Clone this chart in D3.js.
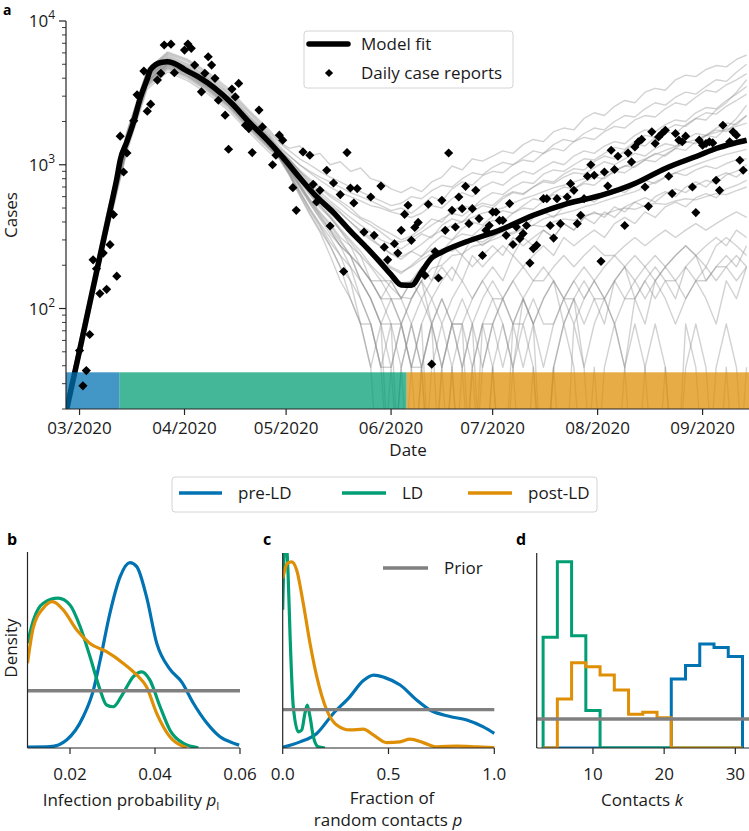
<!DOCTYPE html>
<html><head><meta charset="utf-8">
<script src="https://cdn.jsdelivr.net/npm/d3@7"></script>
<style>
body{margin:0;background:#fff;}
svg{display:block;font-family:"Open Sans","Noto Sans",sans-serif;}
</style></head><body>
<svg id="chart" width="749" height="831"></svg>
<script>
// ---------------- DATA ----------------
// Panel a: day offsets relative to 1 March 2020
const reportDays = [0,1,2,3,4,5,6,7,8,9,10,11,12,13,14,16,17,19,20,21,23,24,25,27,28,31,32,33,34,36,37,38,39,40,41,43,44,45,46,47,49,50,51,53,54,57,58,59,60,63,64,66,68,69,70,71,73,74,75,77,78,79,80,81,82,84,86,87,89,90,91,93,94,95,96,97,98,99,100,102,103,104,105,106,107,108,109,110,111,112,113,114,115,116,117,118,119,120,121,122,123,124,125,126,127,128,129,130,131,132,133,134,135,137,138,139,140,141,142,144,145,146,147,148,149,150,151,152,154,155,156,157,158,159,161,162,163,164,165,166,167,168,169,170,171,172,173,174,175,176,177,178,179,181,182,183,184,185,186,187,188,189,190,192,193,194,195,196];
const reportCases = [51,29,37,66,218,189,127,243,136,278,450,168,1580,891,1208,2020,3064,4484,2360,2640,3880,4327,6810,6900,4365,6280,6920,6457,4935,3214,4327,5640,4935,3990,2812,2213,1282,3360,2966,3682,1884,1786,1216,2400,1833,1000,1164,1606,1482,693,482,1228,1164,731,551,664,916,375,747,620,181,1216,689,542,683,340,597,323,711,267,218,282,243,350,452,523,298,366,397,170,531,41,249,163,566,350,1208,482,369,597,495,708,389,495,664,422,234,350,378,469,469,410,410,323,537,279,369,306,332,378,207,261,275,581,581,378,309,581,389,597,739,664,389,445,581,832,1000,845,213,891,711,1262,927,1146,378,1208,1047,1330,1442,1500,700,514,1694,1406,1563,1650,1738,832,630,1650,1482,1445,1581,700,465,1482,1368,1406,1445,1419,780,664,1884,1445,1694,1606,1075,916];

const fitDays = [-4,0,4,8,10,11,12,14,16,18,20,21,24,26,29,31,35,40,45,50,55,60,65,70,75,80,85,89,92,95,98,101,104,107,114,124,134,144,154,164,173,183,188,193,197];
const fitCases = [19,51,139,376,618,800,1075,1450,2000,2950,3950,4600,5150,5200,4935,4600,4100,3400,2670,1986,1520,1130,815,600,465,345,262,207,172,146,145,180,225,247,290,350,445,537,612,740,943,1164,1297,1406,1482];

const sampleDays = [-4,2,8,14,20,26,32,38,44,50,56,59,62,65,68,71,74,77,80,83,86,89,92,95,98,101,104,107,110,113,116,119,122,125,128,131,134,137,140,143,146,149,152,155,158,161,164,167,170,173,176,179,182,185,188,191,194,197];
const sampleA1 = [21,100,450,1700,4600,6100,5400,4400,3400,2400,1750,1450,1300,1350,1150,1200,1000,1050,900,950,800,760,680,640,700,650,760,820,980,920,1100,1060,1150,1250,1200,1380,1500,1450,1700,1800,1750,2100,2300,2200,2550,2800,2700,3200,3400,3300,3900,4200,4100,4600,4900,4800,5400,5800];
const sampleA2 = [20,96,430,1650,4500,5900,5200,4200,3200,2300,1650,1350,1150,1000,900,820,760,700,640,600,560,520,480,500,460,520,600,560,680,760,720,840,900,880,1000,1080,1050,1200,1300,1250,1450,1550,1500,1700,1850,1800,2050,2200,2150,2450,2700,2600,2950,3300,3200,3600,3900,4300];
const sampleA3 = [20,92,405,1570,4250,5600,4850,3950,3000,2150,1560,1250,1100,900,780,700,620,560,500,430,400,360,330,300,320,360,420,400,480,520,500,580,640,620,700,760,740,860,920,900,1000,1100,1080,1200,1320,1280,1450,1600,1550,1750,1900,1850,2100,2300,2250,2550,2800,3100];
const sampleA4 = [19,88,388,1500,4070,5350,4640,3760,2880,2040,1480,1200,980,830,700,600,520,460,400,340,300,270,240,220,250,230,280,320,300,360,400,380,440,480,460,520,580,560,640,700,680,760,820,800,900,980,960,1080,1200,1150,1300,1450,1400,1600,1750,1700,1950,2200];
const sampleB1 = [19,85,376,1450,3950,5200,4500,3650,2800,1986,1440,1180,1020,800,690,560,500,400,350,280,250,200,170,150,140,170,220,250,260,290,300,320,340,350,390,410,450,470,500,520,560,570,600,630,650,710,740,790,880,940,1020,1070,1150,1230,1290,1380,1410,1500];
const sampleB2 = [19,87,384,1480,4030,5300,4590,3720,2860,2030,1470,1220,1000,840,660,590,470,420,330,300,240,215,165,150,155,175,230,240,275,280,310,315,345,360,380,420,440,480,490,540,545,590,610,610,670,690,750,810,860,960,1000,1100,1140,1240,1280,1400,1400,1520];
const sampleB3 = [20,89,395,1520,4150,5460,4720,3830,2940,2090,1510,1250,1050,880,740,620,540,470,400,350,310,270,240,230,250,280,320,350,380,400,430,460,480,500,540,580,610,650,690,720,760,800,840,870,920,980,1030,1100,1180,1260,1340,1420,1500,1600,1680,1760,1850,1950];
const sampleB4 = [18,82,361,1390,3790,4990,4320,3500,2690,1910,1380,1150,950,760,620,520,440,360,300,250,200,170,140,120,117,156,190,200,234,240,270,280,300,320,340,360,380,420,440,460,480,510,530,560,590,620,650,700,760,820,880,940,1000,1060,1120,1180,1230,1280];
const sampleC1 = [18,80,353,1360,3710,4890,4230,3430,2630,1870,1350,1150,930,720,560,460,380,300,234,195,156,117,117,78,117,156,117,156,195,156,234,195,234,273,234,312,273,351,312,390,351,430,390,470,430,510,550,510,600,650,600,700,760,700,820,880,820,940];
const sampleC2 = [17,78,346,1330,3630,4780,4140,3360,2580,1830,1320,1160,940,740,580,470,390,312,273,195,156,117,78,78,39,78,117,78,117,156,117,156,195,156,234,195,234,273,234,312,273,312,351,312,390,430,390,470,430,510,550,510,590,630,590,680,720,780];
const sampleC3 = [17,76,338,1300,3550,4680,4050,3280,2520,1790,1300,1140,900,700,540,430,350,273,234,156,117,78,78,39,78,39,78,117,78,78,117,156,117,117,156,195,156,156,195,234,195,234,273,234,234,273,312,273,312,351,312,351,390,351,390,430,470,430];
const sampleD1 = [17,75,331,1280,3480,4580,3960,3210,2460,1750,1270,1130,880,660,500,390,312,234,195,117,78,39,78,0,39,78,0,39,78,39,0,78,117,78,39,117,78,117,156,78,117,156,117,78,156,195,117,156,195,156,117,195,234,156,195,234,195,273];
const sampleD2 = [18,81,357,1380,3750,4940,4280,3470,2660,1890,1370,1120,860,640,480,370,273,195,156,78,39,78,0,39,0,39,78,0,39,0,39,78,39,0,78,39,78,0,39,78,117,39,78,117,78,39,117,78,156,117,78,117,156,117,78,156,117,195];
const sampleD3 = [16,72,320,1230,3360,4420,3830,3100,2380,1690,1220,1100,840,610,450,340,234,156,117,78,39,0,39,0,0,39,0,39,0,39,78,0,39,0,39,78,39,0,39,0,78,39,0,39,78,39,0,39,78,39,0,78,39,0,39,78,39,0];
const sampleD4 = [19,86,380,1460,3990,5250,4550,3690,2830,2010,1450,1160,950,780,620,500,430,351,273,234,156,117,156,117,78,117,78,39,78,117,78,39,78,117,156,117,78,117,156,117,156,195,156,117,156,195,234,195,156,195,234,273,234,195,273,312,273,234];
const sampleD5 = [19,83,368,1420,3870,5100,4410,3580,2740,1950,1410,1110,850,620,460,350,273,195,117,78,78,39,39,78,39,39,78,39,78,78,39,78,78,117,78,78,117,78,78,117,117,78,117,117,156,117,117,156,117,156,156,195,156,156,195,195,156,195];
const sampleE1 = [21,94,414,1600,4350,5700,4950,4000,3080,2180,1580,1250,1080,920,800,690,600,540,470,420,380,340,300,290,310,340,380,420,460,440,500,540,520,600,650,630,700,760,740,820,880,860,950,1050,1000,1100,1200,1150,1300,1400,1350,1500,1650,1600,1800,1950,1900,2200];
const sampleE2 = [21,95,420,1620,4420,5820,5040,4090,3140,2220,1610,1300,1150,1000,880,780,700,640,600,560,520,500,470,450,430,460,520,500,580,640,600,700,760,720,820,900,860,960,1050,1000,1150,1250,1200,1350,1450,1400,1600,1750,1700,1900,2050,2000,2300,2500,2450,2800,3100,3500];
const sampleE3 = [18,82,365,1410,3830,5040,4370,3540,2720,1930,1400,1170,960,780,640,520,430,350,290,234,195,156,156,117,156,195,156,234,273,234,312,273,312,351,390,351,430,470,430,510,550,590,550,630,680,640,720,780,740,820,880,840,920,980,940,1020,1080,1100];
const sampleF1 = [21,98,440,1680,4560,6000,5300,4300,3300,2350,1700,1420,1250,1100,1000,900,820,760,700,650,600,560,520,540,600,580,660,720,700,800,880,850,960,1040,1000,1120,1250,1200,1380,1500,1450,1650,1800,1750,2000,2200,2150,2450,2700,2600,2950,3200,3100,3500,3900,3800,4400,5000];
const sampleF2 = [20,90,398,1540,4190,5510,4770,3870,2970,2100,1530,1300,1080,900,760,650,560,490,430,380,340,300,280,260,290,330,310,380,420,400,470,520,500,580,640,620,700,780,760,860,940,920,1050,1150,1100,1250,1400,1350,1550,1700,1650,1900,2100,2050,2400,2700,3200,3900];
const sampleF3 = [19,83,368,1420,3870,5100,4410,3580,2740,1950,1410,1180,960,790,650,540,460,390,330,280,240,210,190,175,200,230,260,250,300,330,320,370,410,400,460,500,490,560,620,600,680,740,720,820,900,880,980,1080,1050,1180,1300,1260,1450,1600,1550,1800,2100,2600];
const sampleF4 = [18,79,350,1350,3670,4840,4190,3400,2600,1850,1340,1140,920,720,560,440,350,273,234,195,156,156,117,117,156,117,156,195,156,234,195,234,273,234,312,273,312,351,312,390,351,430,470,430,510,470,550,590,550,630,680,640,720,780,740,850,900,1000];
const sampleG1 = [17,77,342,1320,3590,4730,4100,3320,2550,1810,1310,1120,870,650,490,380,290,234,156,117,78,39,0,39,78,39,0,0,39,0,39,0,39,78,39,0,39,0,39,78,39,0,39,0,0,39,78,39,0,39,0,39,78,39,0,39,0,39];
const sampleG2 = [18,82,361,1390,3790,4990,4320,3500,2690,1910,1380,1140,900,700,540,420,330,273,195,156,117,78,117,78,117,156,78,117,78,39,78,117,156,117,78,117,156,195,156,117,156,117,156,195,234,195,156,195,234,195,234,273,234,273,312,273,351,312];
const sampleG3 = [19,87,384,1480,4030,5300,4590,3720,2860,2030,1470,1150,930,730,570,450,360,290,234,156,117,78,39,78,39,0,39,78,39,78,0,39,78,39,78,117,78,39,78,117,78,117,156,117,78,117,156,117,156,195,156,117,156,195,156,195,234,195];
const sampleG4 = [20,88,391,1510,4110,5410,4680,3800,2910,2070,1500,1200,1000,820,680,560,470,400,340,290,250,220,195,180,195,220,240,260,250,280,300,290,320,340,330,360,380,370,400,420,410,440,460,450,480,500,490,520,540,530,560,580,570,600,630,620,660,700];
const sampleTrajectories = [sampleA1,sampleA2,sampleA3,sampleA4,sampleB1,sampleB2,sampleB3,sampleB4,sampleC1,sampleC2,sampleC3,sampleD1,sampleD2,sampleD3,sampleD4,sampleD5,sampleE1,sampleE2,sampleE3,sampleF1,sampleF2,sampleF3,sampleF4,sampleG1,sampleG2,sampleG3,sampleG4];

const phaseNames = ["pre-LD","LD","post-LD"];
const phaseStartDays = [-4, 11.8, 96.6];
const phaseEndDay = 198;
const phaseColors = ["#0173b2","#029e73","#de8f05"];

// Panel b: infection probability posteriors
const bPreP = [0.010,0.0153,0.0192,0.0231,0.0255,0.0271,0.0294,0.0318,0.0341,0.0357,0.0380,0.0404,0.0435,0.0463,0.0490,0.0522,0.0553,0.0584,0.0598];
const bPreDensity = [0.3,0.45,2.8,10.9,20.2,30.7,47.1,59.8,64.7,63.3,52.8,36.6,27.5,23.0,15.7,8.7,3.9,1.7,1.0];
const bLdP = [0.010,0.0114,0.0137,0.0172,0.0200,0.0224,0.0247,0.0271,0.0286,0.0302,0.0325,0.0349,0.0369,0.0388,0.0412,0.0435,0.0467,0.0502];
const bLdDensity = [36.6,44.7,50.5,52.3,49.9,42.3,31.9,20.2,15.0,14.4,19.1,24.9,26.6,23.7,14.4,6.3,1.6,0.1];
const bPostP = [0.010,0.0114,0.0137,0.0159,0.0184,0.0216,0.0247,0.0286,0.0325,0.0357,0.0380,0.0404,0.0435,0.0467,0.0475];
const bPostDensity = [29.6,42.3,48.8,51.1,48.2,41.2,36.5,33.6,29.6,25.5,21.4,12.1,3.9,0.5,0.1];
const bPriorP = [0.01,0.06];
const bPriorDensity = [20,20];
const bTicks = [0.02,0.04,0.06];

// Panel c: fraction of random contacts
const cPreP = [0,0.082,0.161,0.239,0.318,0.38,0.43,0.48,0.555,0.633,0.696,0.79,0.87,0.948,1.0];
const cPreDensity = [0.02,0.16,0.38,0.90,1.34,1.75,1.90,1.84,1.64,1.25,0.99,0.82,0.73,0.55,0.38];
const cLdP = [0,0.012,0.025,0.035,0.05,0.074,0.09,0.105,0.116,0.129,0.145,0.168,0.2];
const cLdDensity = [3.6,5.6,4.6,2.9,1.08,0.42,0.47,0.90,1.12,0.82,0.29,0.03,0.0];
const cPostP = [0,0.022,0.042,0.066,0.097,0.129,0.161,0.208,0.255,0.318,0.381,0.428,0.491,0.554,0.602,0.664,0.728,0.822,0.917,1.0];
const cPostDensity = [4.42,4.81,4.85,4.64,3.77,2.73,1.86,0.99,0.60,0.47,0.49,0.34,0.14,0.16,0.23,0.14,0.03,0.05,0.03,0.01];
const cPriorP = [0,1];
const cPriorDensity = [1,1];
const cTicks = [0,0.5,1.0];

// Panel d: contacts k (histograms, bins of width 2)
const kBinEdges = [3,5,7,9,11,13,15,17,19,21,23,25,27,29,31];
const kPre  = [0,0,0,0,0,0,0,0,0,2.38,2.84,3.58,3.46,3.15];
const kLd   = [3.82,6.42,3.87,1.29,0,0,0,0,0,0,0,0,0,0];
const kPost = [0,1.69,2.94,2.80,2.52,2.0,1.16,1.23,1.04,0,0,0,0,0];
const kPrior = 1;
const kTicks = [10,20,30];

// ---------------- DRAWING ----------------
const svg = d3.select("#chart");
const axisColor = "#262626";
const FS = 17;
const mar1 = Date.UTC(2020,2,1);
const dayDate = d => new Date(mar1 + d*864e5);

const defs = svg.append("defs");
function clip(id,x0,y0,x1,y1){
  defs.append("clipPath").attr("id",id).append("rect")
    .attr("x",x0).attr("y",y0).attr("width",x1-x0).attr("height",y1-y0);
}

// ===== Panel a =====
const A = {l:66, r:750, t:21, b:409};
const x = d3.scaleUtc().domain([dayDate(-4), dayDate(198)]).range([A.l, A.r]);
const y = d3.scaleLog().domain([20,10000]).range([A.b, A.t]);
clip("clipA", A.l, A.t-2, A.r, A.b);

const gA = svg.append("g").attr("clip-path","url(#clipA)");
const grayLine = d3.line().x((v,i)=>x(dayDate(sampleDays[i]))).y(v=>y(v>0?v:4));
sampleTrajectories.forEach(tr=>{
  gA.append("path").attr("d",grayLine(tr)).attr("fill","none")
    .attr("stroke","#8a8a8a").attr("stroke-opacity",0.38).attr("stroke-width",1.4)
    .attr("stroke-linejoin","round");
});

// model fit
const fitLine = d3.line().x((v,i)=>x(dayDate(fitDays[i]))).y(v=>y(v)).curve(d3.curveMonotoneX);
gA.append("path").attr("d",fitLine(fitCases)).attr("fill","none")
  .attr("stroke","#000").attr("stroke-width",5.5).attr("stroke-linejoin","round");

// phase bars (semi-transparent, over the lines)
phaseNames.forEach((n,i)=>{
  const s = phaseStartDays[i], e = i<2 ? phaseStartDays[i+1] : phaseEndDay;
  gA.append("rect").attr("x",x(dayDate(s))).attr("width",x(dayDate(e))-x(dayDate(s)))
    .attr("y",y(36)).attr("height",y(20)-y(36))
    .attr("fill",phaseColors[i]).attr("fill-opacity",0.74);
});

// daily reports
const diamond = d3.symbol(d3.symbolSquare, 42);
svg.append("g").selectAll("path").data(reportDays).join("path")
  .attr("d",diamond())
  .attr("transform",(d,i)=>`translate(${x(dayDate(d))},${y(reportCases[i])}) rotate(45)`)
  .attr("fill","#000");

// axes a
const axA = svg.append("g").attr("stroke",axisColor).attr("stroke-width",1.2);
axA.append("line").attr("x1",A.l).attr("x2",A.l).attr("y1",A.t).attr("y2",A.b);
axA.append("line").attr("x1",A.l).attr("x2",A.r).attr("y1",A.b).attr("y2",A.b);
const majors = [100,1000,10000];
const minors = [];
[10,100,1000].forEach(b=>{for(let m=2;m<=9;m++){const v=m*b; if(v>=20 && v<10000) minors.push(v);}});
majors.forEach(v=>axA.append("line").attr("x1",A.l-7).attr("x2",A.l).attr("y1",y(v)).attr("y2",y(v)));
minors.forEach(v=>axA.append("line").attr("x1",A.l-4).attr("x2",A.l).attr("y1",y(v)).attr("y2",y(v)).attr("stroke-width",0.9));
majors.forEach(v=>{
  const t = svg.append("text").attr("x",A.l-11).attr("y",y(v)+6).attr("text-anchor","end")
    .attr("font-size",FS).attr("fill","#1a1a1a");
  t.append("tspan").text("10");
  t.append("tspan").attr("font-size",12).attr("dy",-8).text(String(Math.round(Math.log10(v))));
});
const monthTicks = d3.utcMonth.range(dayDate(-4), dayDate(198));
monthTicks.forEach(m=>{
  axA.append("line").attr("x1",x(m)).attr("x2",x(m)).attr("y1",A.b).attr("y2",A.b+6);
  svg.append("text").attr("x",x(m)).attr("y",434).attr("text-anchor","middle")
    .attr("font-size",FS).attr("fill","#1a1a1a").text(d3.utcFormat("%m/%Y")(m));
});
svg.append("text").attr("x",(A.l+A.r)/2).attr("y",456).attr("text-anchor","middle")
  .attr("font-size",FS).attr("fill","#1a1a1a").text("Date");
svg.append("text").attr("transform","translate(17,215) rotate(-90)").attr("text-anchor","middle")
  .attr("font-size",FS).attr("fill","#1a1a1a").text("Cases");
svg.append("text").attr("x",3).attr("y",15).attr("font-size",14).attr("font-weight","bold").text("a");

// legend a
const lg = svg.append("g");
lg.append("rect").attr("x",304).attr("y",31).attr("width",209).attr("height",57).attr("rx",3)
  .attr("fill","#fff").attr("fill-opacity",0.85).attr("stroke","#d4d4d4").attr("stroke-width",1);
lg.append("line").attr("x1",309).attr("x2",348).attr("y1",44).attr("y2",44)
  .attr("stroke","#000").attr("stroke-width",5.5).attr("stroke-linecap","round");
lg.append("text").attr("x",361).attr("y",50).attr("font-size",FS).attr("fill","#1a1a1a").text("Model fit");
lg.append("path").attr("d",d3.symbol(d3.symbolSquare,34)()).attr("transform","translate(329,73) rotate(45)").attr("fill","#000");
lg.append("text").attr("x",361).attr("y",79).attr("font-size",FS).attr("fill","#1a1a1a").text("Daily case reports");

// bottom legend
const lb = svg.append("g");
lb.append("rect").attr("x",172).attr("y",477).attr("width",425).attr("height",35).attr("rx",3)
  .attr("fill","#fff").attr("stroke","#d4d4d4").attr("stroke-width",1);
const legX = [[179,222,238],[342,386,402],[468,512,528]];
phaseNames.forEach((n,i)=>{
  lb.append("line").attr("x1",legX[i][0]).attr("x2",legX[i][1]).attr("y1",493).attr("y2",493)
    .attr("stroke",phaseColors[i]).attr("stroke-width",3.4);
  lb.append("text").attr("x",legX[i][2]).attr("y",499).attr("font-size",FS).attr("fill","#1a1a1a").text(n);
});

// ===== helpers for bottom panels =====
function frame(x0,x1,ytop,ybot){
  const g = svg.append("g").attr("stroke",axisColor).attr("stroke-width",1.2);
  g.append("line").attr("x1",x0).attr("x2",x0).attr("y1",ytop).attr("y2",ybot);
  g.append("line").attr("x1",x0).attr("x2",x1).attr("y1",ybot).attr("y2",ybot);
  return g;
}
function xticks(g,scale,ticks,fmt,ybot){
  ticks.forEach(t=>{
    g.append("line").attr("x1",scale(t)).attr("x2",scale(t)).attr("y1",ybot).attr("y2",ybot+6);
    svg.append("text").attr("x",scale(t)).attr("y",ybot+32).attr("text-anchor","middle")
      .attr("font-size",FS).attr("fill","#1a1a1a").text(fmt(t));
  });
}
function curve(g,xs,ys,xsc,ysc,color,w){
  const ln = d3.line().x((v,i)=>xsc(xs[i])).y(v=>ysc(v)).curve(d3.curveMonotoneX);
  g.append("path").attr("d",ln(ys)).attr("fill","none").attr("stroke",color)
    .attr("stroke-width",w||3.2).attr("stroke-linejoin","round");
}
const BOT = 748;

// ===== Panel b =====
const xb = d3.scaleLinear().domain([0.01,0.06]).range([27.5,240]);
const yb = d3.scaleLinear().domain([0,68.4]).range([BOT,552]);
clip("clipB",27.5,552,242,BOT);
const gB = svg.append("g").attr("clip-path","url(#clipB)");
curve(gB,bPreP,bPreDensity,xb,yb,phaseColors[0]);
curve(gB,bLdP,bLdDensity,xb,yb,phaseColors[1]);
curve(gB,bPostP,bPostDensity,xb,yb,phaseColors[2]);
curve(gB,bPriorP,bPriorDensity,xb,yb,"#808080",3.4);
const fb = frame(27.5,240,552,BOT);
xticks(fb,xb,bTicks,d3.format(".2f"),BOT);
const tb = svg.append("text").attr("x",131).attr("y",806).attr("text-anchor","middle").attr("font-size",FS).attr("fill","#1a1a1a");
tb.append("tspan").text("Infection probability ");
tb.append("tspan").attr("font-style","italic").text("p");
tb.append("tspan").attr("font-size",11).attr("dy",4).text("I");
svg.append("text").attr("transform","translate(17,648) rotate(-90)").attr("text-anchor","middle")
  .attr("font-size",FS).attr("fill","#1a1a1a").text("Density");
svg.append("text").attr("x",7).attr("y",545).attr("font-size",16).attr("font-weight","bold").text("b");

// ===== Panel c =====
const xc = d3.scaleLinear().domain([0,1]).range([282.7,494.3]);
const yc = d3.scaleLinear().domain([0,5.08]).range([BOT,553]);
clip("clipC",282.7,553,497,BOT);
const gC = svg.append("g").attr("clip-path","url(#clipC)");
curve(gC,cPreP,cPreDensity,xc,yc,phaseColors[0]);
curve(gC,cLdP,cLdDensity,xc,yc,phaseColors[1]);
curve(gC,cPostP,cPostDensity,xc,yc,phaseColors[2]);
curve(gC,cPriorP,cPriorDensity,xc,yc,"#808080",3.4);
const fc = frame(282.7,494.3,553,BOT);
xticks(fc,xc,cTicks,d3.format(".1f"),BOT);
svg.append("text").attr("x",392).attr("y",804).attr("text-anchor","middle").attr("font-size",FS).attr("fill","#1a1a1a").text("Fraction of");
const tc = svg.append("text").attr("x",388).attr("y",826).attr("text-anchor","middle").attr("font-size",FS).attr("fill","#1a1a1a");
tc.append("tspan").text("random contacts ");
tc.append("tspan").attr("font-style","italic").text("p");
svg.append("text").attr("x",263).attr("y",545).attr("font-size",16).attr("font-weight","bold").text("c");
// prior legend
svg.append("line").attr("x1",383).attr("x2",428).attr("y1",568).attr("y2",568).attr("stroke","#808080").attr("stroke-width",3.4);
svg.append("text").attr("x",444).attr("y",574).attr("font-size",FS).attr("fill","#1a1a1a").text("Prior");

// ===== Panel d =====
const xd = d3.scaleLinear().domain([2.1,32]).range([536.7,749.6]);
const yd = d3.scaleLinear().domain([0,6.72]).range([BOT,553]);
clip("clipD",536.7,553,749,BOT);
const gD = svg.append("g").attr("clip-path","url(#clipD)");
function stepPath(h){
  const pts = [[kBinEdges[0],0]];
  h.forEach((v,i)=>{pts.push([kBinEdges[i],v]); pts.push([kBinEdges[i+1],v]);});
  pts.push([kBinEdges[kBinEdges.length-1],0]);
  return d3.line().x(p=>xd(p[0])).y(p=>yd(p[1]))(pts);
}
[[kPre,0],[kLd,1],[kPost,2]].forEach(([h,ci])=>{
  gD.append("path").attr("d",stepPath(h)).attr("fill","none").attr("stroke",phaseColors[ci])
    .attr("stroke-width",3).attr("stroke-linejoin","miter");
});
gD.append("line").attr("x1",xd(2.1)).attr("x2",xd(32)).attr("y1",yd(kPrior)).attr("y2",yd(kPrior))
  .attr("stroke","#808080").attr("stroke-width",3.4);
const fd = frame(536.7,749.6,553,BOT);
xticks(fd,xd,kTicks,d3.format("d"),BOT);
const td = svg.append("text").attr("x",642).attr("y",806).attr("text-anchor","middle").attr("font-size",FS).attr("fill","#1a1a1a");
td.append("tspan").text("Contacts ");
td.append("tspan").attr("font-style","italic").text("k");
svg.append("text").attr("x",516).attr("y",545).attr("font-size",16).attr("font-weight","bold").text("d");
</script></body></html>
